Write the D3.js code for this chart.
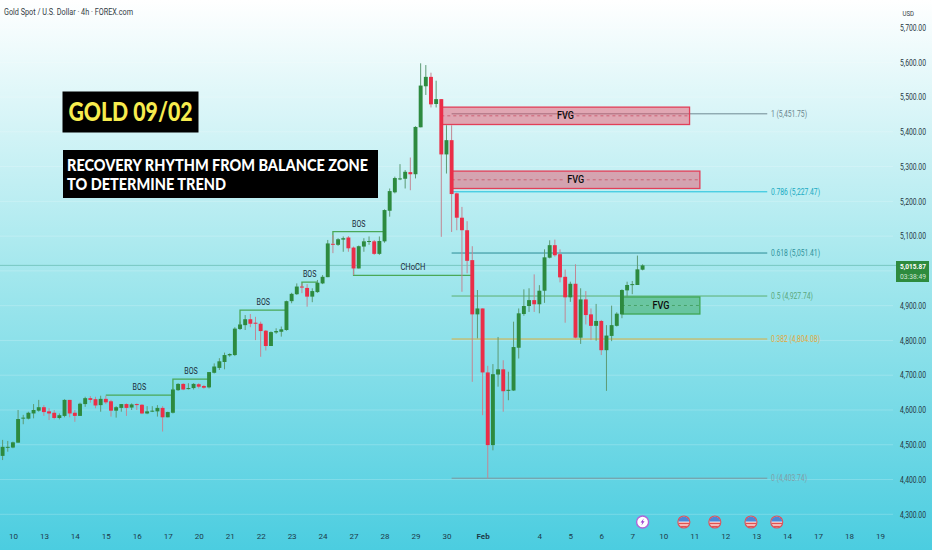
<!DOCTYPE html>
<html><head><meta charset="utf-8">
<script src="https://cdn.jsdelivr.net/npm/d3@7/dist/d3.min.js"></script>
<style>html,body{margin:0;padding:0;background:#fff}svg{display:block}text{font-family:Roboto,"Open Sans",sans-serif}</style>
</head><body><div id="chart"></div>
<script>
const opens=[4468,4492,4492,4506,4576,4575,4590,4598,4608,4596,4592,4577,4583,4629,4592,4583,4617,4634,4631,4614,4632,4625,4598,4606,4617,4607,4617,4615,4590,4596,4596,4606,4579,4592,4657,4675,4661,4663,4674,4669,4665,4707,4721,4738,4757,4758,4833,4844,4861,4851,4848,4828,4784,4823,4825,4830,4913,4933,4955,4951,4926,4939,4964,4982,5078,5075,5090,5096,5067,5007,5070,5084,5085,5049,5085,5173,5226,5264,5265,5284,5278,5413,5531,5558,5480,5494,5335,5376,5223,5153,5117,5031,4875,4892,4708,4499,4702,4717,4655,4656,4779,4876,4899,4916,4904,4943,5038,5074,5048,4983,4924,4963,4808,4918,4875,4842,4856,4772,4813,4842,4875,4944,4960,4959.5,5003.5];
const closes=[4494,4494,4507,4574,4578,4592,4600,4608,4594,4590,4577,4585,4629,4590,4583,4618,4634,4629,4613,4632,4622,4598,4608,4617,4606,4616,4615,4590,4596,4598,4606,4579,4594,4659,4675,4659,4663,4675,4667,4664,4709,4725,4740,4758,4761,4834,4846,4861,4848,4849,4827,4784,4824,4827,4832,4913,4934,4955,4953,4926,4942,4966,4983,5079,5076,5091,5094,5065,5007,5071,5085,5086,5049,5086,5175,5229.5,5267,5266,5285,5278,5414,5533,5558,5479,5494,5335,5376,5221,5153,5117,5029,4875,4892,4708,4499,4703,4717,4654,4658,4781,4878,4899,4916,4904,4943,5039,5074,5045,4981.5,4924,4963,4808,4918,4873,4842,4856,4772,4814,4844,4877,4945,4959.5,4962,5004.5,5015.87];
const highs=[4514,4511,4509,4600,4586,4595,4617,4629,4614,4605,4600,4590,4631,4629,4600,4621,4638,4640,4638,4641,4641,4629,4611,4617,4619,4619,4619,4617,4611,4611,4614,4611,4595,4662,4677,4677,4677,4677,4677,4672,4709,4734,4749,4765,4763,4838,4854,4873,4876,4868,4854,4830,4826,4835,4840,4914.5,4937,4964,4964,4962,4950,4974,4988,5089,5103,5094,5099,5100,5070,5073,5094,5099,5089,5099,5177,5237,5271,5307,5290,5326,5416,5597,5592,5570,5547,5494,5419,5419,5225,5184,5143,5071,4945,4892,4727,4732,4810,4743,4710,4854,4892,4947,4950,4990,4959,5062,5088,5090,5062,5004,4969,5019,4950,4942,4892,4905,4859,4844,4900,4881,4947,4969,4971,5044,5019];
const lows=[4456,4480,4490,4506,4559,4573,4576,4595,4583,4571,4573,4573,4579,4579,4566,4583,4609,4621,4605,4595,4617,4581,4578,4595,4583,4600,4600,4588,4588,4594,4581,4538,4579,4590,4655,4657,4659,4659,4662,4661,4662,4705,4715,4717,4753,4755,4830,4830,4838,4801,4753,4771,4784,4819,4811,4828,4907,4931,4936,4897,4910,4937,4962,4982,5051,5072,5055,5055,4988,5007,5055,5075,5046,5046,5081,5156,5223,5261,5237,5232,5266,5413,5506,5470,5470,5098,5280,5112,5117,4940,4993,4681,4806,4585,4403,4484,4667,4595,4628,4655,4748,4871,4882,4882,4878,4908,5036,5041,4967,4851,4911,4806,4790,4846,4801,4799,4758,4655,4798,4840,4864,4926,4933,4959.5,5001.6];

const gridPrices=[5700,5600,5500,5400,5300,5200,5100,5000,4900,4800,4700,4600,4500,4400,4300];
const priceTicks=[5700,5600,5500,5400,5300,5200,5100,4900,4800,4700,4600,4500,4400,4300];
const dayTickIndex=[2,8,14,20,26,32,38,44,50,56,62,68,74,80,86,93,104,110,116,122,128,134,140,146,152,158,164,170];
const dayTickLabels=["10","13","14","15","16","17","20","21","22","23","24","27","28","29","30","Feb","4","5","6","7","10","11","12","13","14","17","18","19"];

const fibRatios=["1","0.786","0.618","0.5","0.382","0"];
const fibPrices=[5451.75,5227.47,5051.41,4927.74,4804.08,4403.74];
const fibColors=["#6f8a92","#1cc0dc","#2b8c96","#5cb070","#dcae3c","#7d959c"];
const fibLabelColors=["#6a858e","#19aac2","#2f929c","#5aa87c","#e0a83c","#7f9ea6"];
const fibLabelWidths=[36,49,49,42,49,36];
const fibStart=[87,87,87,87,87,87];
const fibEnd=148;

const fvgStart=[85,87,120];
const fvgEnd=[133.1,135.1,135.1];
const fvgTop=[5471,5287,4925];
const fvgBottom=[5421,5237,4876];
const fvgFill=["rgba(235,66,92,.44)","rgba(235,66,92,.44)","rgba(46,160,70,.45)"];
const fvgStroke=["#e23f58","#e23f58","#3fa654"];

const structLabels=["BOS","BOS","BOS","BOS","BOS","CHoCH"];
const structStart=[20,33,46,58,64,68];
const structEnd=[33,40,55,61,74,91];
const structPrice=[4643,4689,4887,4968,5113,4987];
const structStub=[4643,4659,4846,4955,5079,5007];
const structColor="#4aa857";

const eventIndex=[124,132,138,145,150];
const eventType=["flash","us","us","us","us"];

const W=932,H=550;
const x=d3.scaleLinear().domain([0,170]).range([2.6,880]);
const y=d3.scaleLinear().domain([4300,5700]).range([514.3,27.5]);
const svg=d3.select("#chart").append("svg").attr("width",W).attr("height",H).attr("viewBox",`0 0 ${W} ${H}`);
const defs=svg.append("defs");
const lg=defs.append("linearGradient").attr("id","bg").attr("x1",0).attr("x2",0).attr("y1",0).attr("y2",1);
lg.append("stop").attr("offset",0).attr("stop-color","#ffffff");
lg.append("stop").attr("offset",.5).attr("stop-color","#a2e7ed");
lg.append("stop").attr("offset",1).attr("stop-color","#4bcde0");
svg.append("rect").attr("width",W).attr("height",H).attr("fill","url(#bg)");

// grid
svg.append("g").selectAll("line").data(gridPrices).join("line")
 .attr("x1",0).attr("x2",893).attr("y1",d=>y(d)).attr("y2",d=>y(d))
 .attr("stroke","#ffffff").attr("stroke-opacity",.2);

// axes
const yAxis=d3.axisRight(y).tickValues(priceTicks).tickSize(0).tickPadding(0).tickFormat(d3.format(",.2f"));
const gy=svg.append("g").attr("transform","translate(900,0)").call(yAxis);
gy.select(".domain").remove();
gy.selectAll("text").attr("font-size",8.5).attr("fill","#26363f").attr("textLength",26).attr("lengthAdjust","spacingAndGlyphs").style("font-family","Roboto");
const xAxis=d3.axisBottom(x).tickValues(dayTickIndex).tickSize(0).tickPadding(0).tickFormat((d,i)=>dayTickLabels[i]);
const gx=svg.append("g").attr("transform","translate(0,533.5)").call(xAxis);
gx.select(".domain").remove();
gx.selectAll("text").attr("font-size",8).attr("fill","#1d3a49").attr("font-weight",(d,i)=>dayTickLabels[i]==="Feb"?700:400).style("font-family","Roboto");

// last price line
const lastClose=closes[closes.length-1];
svg.append("line").attr("x1",0).attr("x2",896).attr("y1",y(lastClose)).attr("y2",y(lastClose)).attr("stroke","#3f9d8a").attr("stroke-opacity",.55).attr("stroke-width",.8);

// fib
const fib=svg.append("g");
fib.selectAll("line").data(fibPrices).join("line")
 .attr("x1",(d,i)=>x(fibStart[i])).attr("x2",x(fibEnd)+.8).attr("y1",d=>y(d)).attr("y2",d=>y(d))
 .attr("stroke",(d,i)=>fibColors[i]).attr("stroke-width",1);
fib.selectAll("text").data(fibPrices).join("text")
 .attr("x",771).attr("y",d=>y(d)+3).attr("font-size",8.5)
 .attr("fill",(d,i)=>fibLabelColors[i]).attr("textLength",(d,i)=>fibLabelWidths[i]).attr("lengthAdjust","spacingAndGlyphs")
 .text((d,i)=>`${fibRatios[i]} (${d3.format(",.2f")(d)})`);

// structure
const st=svg.append("g");
structPrice.forEach((p,i)=>{
 st.append("path").attr("fill","none").attr("stroke",structColor).attr("stroke-width",1.3)
  .attr("d",d3.line()([[x(structStart[i]),y(structStub[i])],[x(structStart[i]),y(p)],[x(structEnd[i]),y(p)]]));
 const isC=structLabels[i]==="CHoCH";
 st.append("text").attr("x",x((structStart[i]+structEnd[i])/2)).attr("y",y(p)-5).attr("text-anchor","middle")
  .attr("font-size",9.5).attr("fill","#1b2b3a").attr("textLength",isC?25:13.5).attr("lengthAdjust","spacingAndGlyphs").text(structLabels[i]);
});

// FVG zones
const fz=svg.append("g");
fvgStart.forEach((s,i)=>{
 const x0=x(s),x1=x(fvgEnd[i]),y0=y(fvgTop[i]),y1=y(fvgBottom[i]);
 fz.append("rect").attr("x",x0).attr("y",y0).attr("width",x1-x0).attr("height",y1-y0)
  .attr("fill",fvgFill[i]).attr("stroke",fvgStroke[i]).attr("stroke-width",1.3);
 const ym=(y0+y1)/2, xm=(x0+x1)/2;
 [[x0,xm-11],[xm+11,x1]].forEach(seg=>{
  fz.append("line").attr("x1",seg[0]).attr("x2",seg[1]).attr("y1",ym).attr("y2",ym)
   .attr("stroke",i<2?"#c43b50":"#2f8f49").attr("stroke-dasharray","3 3").attr("stroke-opacity",.8).attr("stroke-width",.8);
 });
 fz.append("text").attr("x",xm).attr("y",ym+3.6).attr("text-anchor","middle").attr("font-size",10.5).attr("font-weight",500)
  .attr("fill","#0c0c0c").attr("textLength",17).attr("lengthAdjust","spacingAndGlyphs").text("FVG");
});

// candles
const candles=d3.range(opens.length);
const cg=svg.append("g");
const GREEN="#2d8a3f",RED="#ea2e48";
const col=i=>closes[i]>=opens[i]?GREEN:RED;
cg.selectAll("line").data(candles).join("line")
 .attr("x1",i=>x(i)).attr("x2",i=>x(i)).attr("y1",i=>y(highs[i])).attr("y2",i=>y(lows[i]))
 .attr("stroke",i=>closes[i]>=opens[i]?"#5d9a74":"#c28794").attr("stroke-width",1);
cg.selectAll("rect").data(candles).join("rect")
 .attr("x",i=>x(i)-1.95).attr("width",3.9)
 .attr("y",i=>y(Math.max(opens[i],closes[i])))
 .attr("height",i=>Math.max(1,Math.abs(y(opens[i])-y(closes[i]))))
 .attr("fill",col);

// Text boxes
svg.append("rect").attr("x",62.5).attr("y",91.5).attr("width",136).attr("height",41).attr("fill","#000");
svg.append("text").attr("x",68.5).attr("y",121).attr("font-size",26.5).attr("font-weight",900).style("font-family","Lato")
 .attr("fill","#f7ec4e").attr("textLength",124).attr("lengthAdjust","spacingAndGlyphs").text("GOLD 09/02");
svg.append("rect").attr("x",63).attr("y",150).attr("width",315).attr("height",48).attr("fill","#000");
svg.append("text").attr("x",67).attr("y",170.5).attr("font-size",16.5).attr("font-weight",900).style("font-family","Lato")
 .attr("fill","#fff").attr("textLength",301).attr("lengthAdjust","spacingAndGlyphs").text("RECOVERY RHYTHM FROM BALANCE ZONE");
svg.append("text").attr("x",67).attr("y",190).attr("font-size",16.5).attr("font-weight",900).style("font-family","Lato")
 .attr("fill","#fff").attr("textLength",159).attr("lengthAdjust","spacingAndGlyphs").text("TO DETERMINE TREND");

// header
svg.append("text").attr("x",4).attr("y",14.5).attr("font-size",9).attr("fill","#333c44")
 .attr("textLength",129).attr("lengthAdjust","spacingAndGlyphs").text("Gold Spot / U.S. Dollar · 4h · FOREX.com");
svg.append("text").attr("x",902.5).attr("y",15.5).attr("font-size",8).attr("fill","#333c44")
 .attr("textLength",11.5).attr("lengthAdjust","spacingAndGlyphs").text("USD");

// price tag
svg.append("rect").attr("x",896).attr("y",261).attr("width",33).attr("height",21).attr("fill","#2e8b3e");
svg.append("text").attr("x",900).attr("y",269.2).attr("font-size",8).attr("font-weight",700).attr("fill","#fff")
 .attr("textLength",26).attr("lengthAdjust","spacingAndGlyphs").text(d3.format(",.2f")(lastClose));
svg.append("text").attr("x",900).attr("y",279).attr("font-size",8).attr("fill","#cfe6d4")
 .attr("textLength",26).attr("lengthAdjust","spacingAndGlyphs").text("03:38:49");

// event icons
const evY=522;
defs.append("clipPath").attr("id","flagClip").append("circle").attr("r",5.6);
eventIndex.forEach((idx,i)=>{
 const g=svg.append("g").attr("transform",`translate(${x(idx)},${evY})`);
 if(eventType[i]==="flash"){
  g.append("circle").attr("r",6).attr("fill","#fff").attr("stroke","#b065d8").attr("stroke-width",1.4);
  g.append("path").attr("d","M1.2,-3.6 L-2,0.6 L-0.2,0.6 L-1.2,3.6 L2,-0.8 L0.2,-0.8 Z").attr("fill","#9a3fd0");
 } else {
  const c=g.append("g").attr("clip-path","url(#flagClip)");
  c.append("rect").attr("x",-6).attr("y",-6).attr("width",12).attr("height",12).attr("fill","#fff");
  c.append("rect").attr("x",-6).attr("y",-6).attr("width",12).attr("height",5.6).attr("fill","#4a87d8");
  c.append("rect").attr("x",-6).attr("y",0.6).attr("width",12).attr("height",1.8).attr("fill","#e2504f");
  c.append("rect").attr("x",-6).attr("y",3.6).attr("width",12).attr("height",2.4).attr("fill","#e2504f");
  g.append("circle").attr("r",6).attr("fill","none").attr("stroke","#e0505a").attr("stroke-width",1.1);
 }
});
</script></body></html>
